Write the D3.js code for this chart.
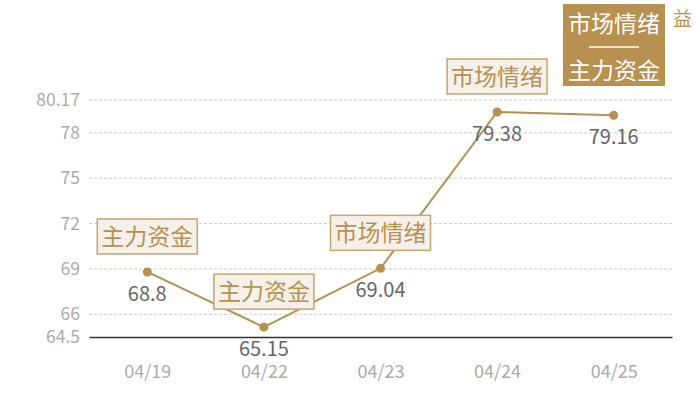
<!DOCTYPE html>
<html>
<head>
<meta charset="utf-8">
<script src="https://cdn.jsdelivr.net/npm/d3@7"></script>
<style>
body{margin:0;background:#fff;}
text{font-family:"Noto Sans CJK SC","Noto Sans",sans-serif;}
</style>
</head>
<body>
<svg id="chart" width="700" height="400"></svg>
<script>
var dates = ["04/19","04/22","04/23","04/24","04/25"];
var values = [68.8, 65.15, 69.04, 79.38, 79.16];
var notes = ["主力资金","主力资金","市场情绪","市场情绪",""];
var yTicks = [64.5, 66, 69, 72, 75, 78, 80.17];

var gold = "#b8904f";
var svg = d3.select("#chart");
var plotLeft = 89, plotRight = 672, plotTop = 100, plotBottom = 337;

var x = d3.scalePoint().domain(dates).range([plotLeft, plotRight]).padding(0.5);
var y = d3.scaleLinear().domain([64.5, 80.17]).range([plotBottom, plotTop]);

// grid
svg.append("g").selectAll("line").data(yTicks.filter(function(d){return d!=64.5;}))
	.enter().append("line")
	.attr("x1", plotLeft).attr("x2", plotRight)
	.attr("y1", function(d){return y(d);}).attr("y2", function(d){return y(d);})
	.attr("stroke", "#ccc").attr("stroke-dasharray", "3,2").attr("stroke-width", 1);

var yAxis = svg.append("g").attr("transform", "translate(" + plotLeft + ",0)")
	.call(d3.axisLeft(y).tickValues(yTicks).tickSize(0).tickPadding(9).tickFormat(function(d){return d;}));
yAxis.select(".domain").remove();
yAxis.selectAll("text").attr("fill", "#aaa").style("font-size", "17.5px");

var xAxis = svg.append("g").attr("transform", "translate(0," + plotBottom + ")")
	.call(d3.axisBottom(x).tickSize(0).tickPadding(28));
xAxis.select(".domain").attr("stroke", "#333").attr("stroke-width", 1.5);
xAxis.selectAll("text").attr("fill", "#aaa").style("font-size", "18px");

// line
var line = d3.line().x(function(d, i){return x(dates[i]);}).y(function(d){return y(d);});
svg.append("path").datum(values)
	.attr("d", line).attr("fill", "none").attr("stroke", gold).attr("stroke-width", 2);

svg.append("g").selectAll("circle").data(values).enter().append("circle")
	.attr("cx", function(d, i){return x(dates[i]);})
	.attr("cy", function(d){return y(d);})
	.attr("r", 4.5).attr("fill", gold);

svg.append("g").selectAll("text").data(values).enter().append("text")
	.attr("x", function(d, i){return x(dates[i]);})
	.attr("y", function(d){return y(d) + 29;})
	.attr("text-anchor", "middle").attr("fill", "#666").style("font-size", "20px")
	.text(function(d){return d;});

// annotation boxes
var ann = svg.append("g").selectAll("g").data(values).enter()
	.filter(function(d, i){return notes[i] != "";})
	.append("g")
	.attr("transform", function(d){return "translate(" + x(dates[values.indexOf(d)]) + "," + (y(d) - 18) + ")";});
ann.append("rect")
	.attr("x", -50).attr("y", -35).attr("width", 100).attr("height", 35)
	.attr("fill", "#f5f0ea").attr("stroke", "#c8a46e").attr("stroke-width", 1.5);
ann.append("text")
	.attr("x", 0).attr("y", -9).attr("text-anchor", "middle")
	.attr("fill", gold).style("font-size", "23px")
	.text(function(d){return notes[values.indexOf(d)];});

// clipped title glyph at right edge
svg.append("text").attr("x", 673).attr("y", 26).attr("fill", gold).style("font-size", "19px").text("益");

// legend box
var lg = svg.append("g");
lg.append("rect").attr("x", 563).attr("y", 4).attr("width", 102).attr("height", 82).attr("fill", gold);
lg.append("text").attr("x", 614).attr("y", 32).attr("text-anchor", "middle").attr("fill", "#fff").style("font-size", "23px").text("市场情绪");
lg.append("line").attr("x1", 589).attr("x2", 639).attr("y1", 47).attr("y2", 47).attr("stroke", "#fff").attr("stroke-width", 1.5);
lg.append("text").attr("x", 614).attr("y", 79).attr("text-anchor", "middle").attr("fill", "#fff").style("font-size", "23px").text("主力资金");
</script>
</body>
</html>
